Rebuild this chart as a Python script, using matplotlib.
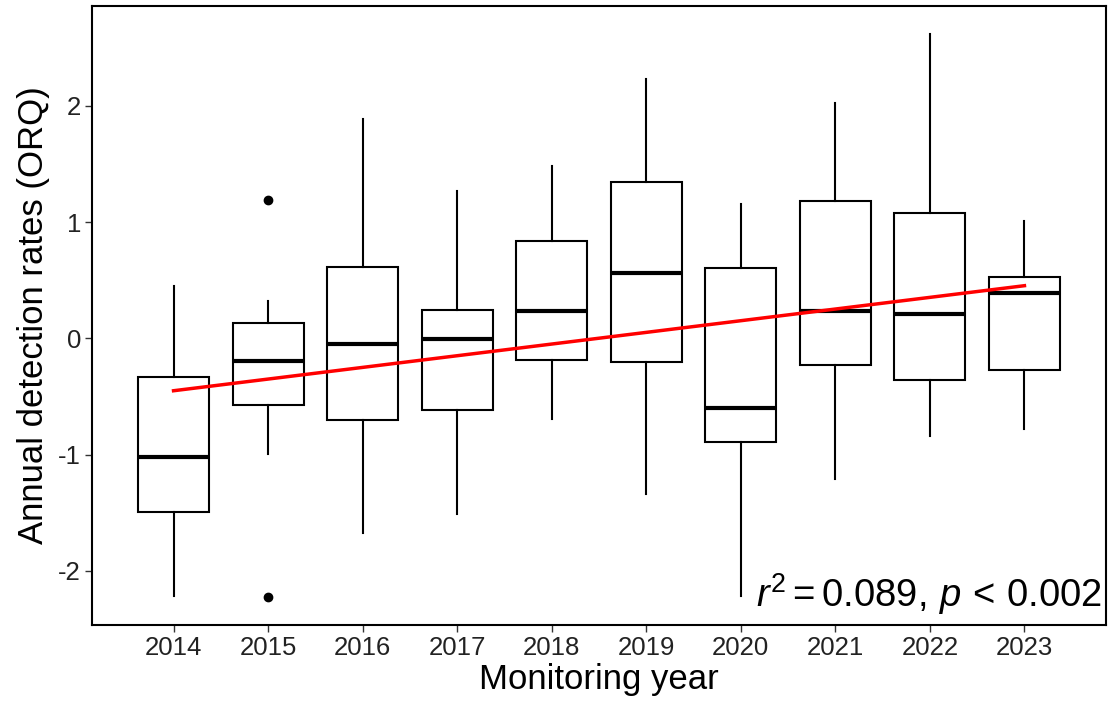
import matplotlib
matplotlib.use("Agg")
import matplotlib.pyplot as plt

plt.rcParams["font.family"] = ["Liberation Sans", "DejaVu Sans"]
plt.rcParams["mathtext.fontset"] = "custom"
plt.rcParams["mathtext.rm"] = "Liberation Sans"
plt.rcParams["mathtext.it"] = "Liberation Sans:italic"
plt.rcParams["axes.unicode_minus"] = False

# box stats (ORQ)
years = [2014, 2015, 2016, 2017, 2018, 2019, 2020, 2021, 2022, 2023]
whis_lo = [-2.215, -0.996, -1.673, -1.512, -0.695, -1.340, -2.215, -1.211, -0.838, -0.780]
q1 = [-1.495, -0.577, -0.703, -0.617, -0.190, -0.201, -0.892, -0.232, -0.361, -0.275]
med = [-1.024, -0.195, -0.050, -0.009, 0.238, 0.565, -0.597, 0.238, 0.209, 0.392]
q3 = [-0.330, 0.134, 0.616, 0.244, 0.835, 1.348, 0.605, 1.179, 1.076, 0.530]
whis_hi = [0.450, 0.321, 1.885, 1.268, 1.485, 2.229, 1.153, 2.028, 2.619, 1.009]
outliers = [[], [1.19, -2.224], [], [], [], [], [], [], [], []]

# fitted linear trend (endpoints)
trend_x = [2014, 2023]
trend_y = [-0.451, 0.453]

stats = []
for i in range(len(years)):
    stats.append(dict(whislo=whis_lo[i], q1=q1[i], med=med[i], q3=q3[i],
                      whishi=whis_hi[i], fliers=outliers[i]))

fig = plt.figure(figsize=(11.08, 7.04), dpi=100)
ax = fig.add_axes([92 / 1108, 1 - 625 / 704, (1106 - 92) / 1108, (625 - 6) / 704])

ax.bxp(stats, positions=years, widths=0.75, showcaps=False, patch_artist=True,
       boxprops=dict(facecolor="white", edgecolor="black", linewidth=1.5),
       whiskerprops=dict(color="black", linewidth=1.5),
       medianprops=dict(color="black", linewidth=3),
       flierprops=dict(marker="o", markerfacecolor="black", markeredgecolor="black",
                       markersize=6))

ax.plot(trend_x, trend_y, color="#FF0000", linewidth=2.5, zorder=5)

ax.set_xlim(2014 - 0.8625, 2023 + 0.8625)
ax.set_ylim(-2.467, 2.86)
ax.set_xticks(years)
ax.set_xticklabels([str(y) for y in years])
ax.set_yticks([-2, -1, 0, 1, 2])
ax.tick_params(axis="both", length=5, width=1, color="#333333",
               labelsize=18.5, labelcolor="#222222", pad=3)

for s in ax.spines.values():
    s.set_linewidth(1.5)
    s.set_color("black")

ax.set_xlabel("Monitoring year", fontsize=25, labelpad=2)
ax.set_ylabel("Annual detection rates (ORQ)", fontsize=25, labelpad=6)

ax.text(0.996, 0.03, r"$r^2 = 0.089,\, p \,<\, 0.002$", transform=ax.transAxes,
        ha="right", va="baseline", fontsize=27.5)

fig.savefig("out.png", dpi=100)
